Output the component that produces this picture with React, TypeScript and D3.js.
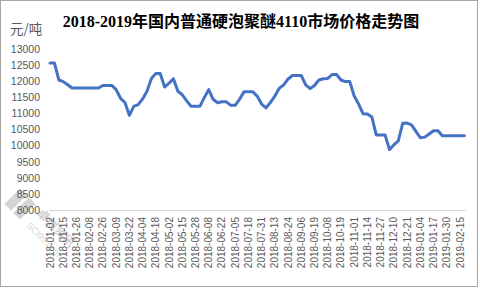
import React from "react";
import * as d3 from "d3";

const titleText = "2018-2019年国内普通硬泡聚醚4110市场价格走势图";
const unitLabel = "元/吨";

const tickLabels = [
  "2018-01-02", "2018-01-15", "2018-01-26", "2018-02-08", "2018-02-26", "2018-03-09",
  "2018-03-22", "2018-04-04", "2018-04-18", "2018-05-02", "2018-05-15", "2018-05-28",
  "2018-06-08", "2018-06-22", "2018-07-05", "2018-07-18", "2018-07-31", "2018-08-13",
  "2018-08-24", "2018-09-06", "2018-09-19", "2018-10-08", "2018-10-19", "2018-11-01",
  "2018-11-14", "2018-11-27", "2018-12-10", "2018-12-21", "2019-01-04", "2019-01-17",
  "2019-01-30", "2019-02-15",
];

// price sampled every 3 trading days (3 samples per labelled interval)
const priceValues = [
  12580, 12580, 12050, 12000, 11900, 11800, 11800, 11800, 11800, 11800,
  11800, 11800, 11880, 11880, 11880, 11750, 11480, 11350, 10950, 11230,
  11280, 11460, 11700, 12100, 12250, 12250, 11830, 11950, 12090, 11700,
  11590, 11400, 11230, 11230, 11230, 11500, 11750, 11450, 11340, 11370,
  11370, 11260, 11260, 11450, 11680, 11680, 11680, 11550, 11300, 11180,
  11350, 11550, 11790, 11900, 12080, 12190, 12190, 12190, 11900, 11780,
  11880, 12050, 12090, 12100, 12220, 12220, 12050, 12000, 12000, 11550,
  11300, 11000, 10990, 10900, 10340, 10340, 10340, 9880, 10030, 10150,
  10700, 10710, 10650, 10450, 10250, 10270, 10370, 10470, 10470, 10310,
  10310, 10310, 10310, 10310, 10310,
];

const samplesPerLabel = 3;
const yTicks = [8000, 8500, 9000, 9500, 10000, 10500, 11000, 11500, 12000, 12500, 13000];

export default function App() {
  const W = 480, H = 288;
  const x0 = 50, xLastLabel = 460;
  const step = (xLastLabel - x0) / ((tickLabels.length - 1) * samplesPerLabel);
  const x = d3.scaleLinear()
    .domain([0, priceValues.length - 1])
    .range([x0, x0 + step * (priceValues.length - 1)]);
  const y = d3.scaleLinear().domain([8000, 13000]).range([210, 49.5]);

  const line = d3.line<number>()
    .x((_, i) => x(i))
    .y((d) => y(d))
    .curve(d3.curveLinear);

  const labelColor = "#595959";

  return (
    <svg width={W} height={H} style={{ position: "absolute", left: 0, top: 0 }}>
      <rect x={0} y={0} width={W} height={H} fill="#ffffff" />
      <rect x={0.5} y={0.5} width={477} height={286} fill="none" stroke="#a6a6a6" strokeWidth={1} />

      {/* watermark */}
      <g opacity={0.7}>
        <rect x={-11} y={-11} width={22} height={22} fill="#c4c4c4" transform="translate(20,204) rotate(45)" />
        <line x1={8} y1={216} x2={32} y2={192} stroke="#ffffff" strokeWidth={3} />
        <text transform="translate(36,214) rotate(45)" fontSize={12} fill="#bdbdbd"
          fontFamily="'Noto Sans CJK SC', sans-serif" fontWeight="bold">卓创资讯</text>
        <text transform="translate(26,226) rotate(45)" fontSize={9} fill="#c4c4c4"
          fontFamily="'Liberation Sans', Arial, sans-serif">SCI99.com</text>
      </g>

      <text x={241} y={26.5} textAnchor="middle" fontSize={16} fontWeight="bold"
        fontFamily="'Liberation Serif', 'Noto Sans CJK SC', serif" fill="#000">{titleText}</text>

      <text x={10} y={34} fontSize={13.5} fill={labelColor}
        fontFamily="'Noto Sans CJK SC', 'Liberation Sans', sans-serif">{unitLabel}</text>

      {yTicks.map((t) => (
        <text key={t} x={40} y={y(t)} dy="0.35em" textAnchor="end" fontSize={10.5}
          fill={labelColor} fontFamily="'Liberation Sans', Arial, sans-serif">{t}</text>
      ))}

      <line x1={49} x2={466} y1={210.5} y2={210.5} stroke="#d9d9d9" strokeWidth={1} />

      {tickLabels.map((lab, k) => {
        const xx = x(k * samplesPerLabel);
        return (
          <text key={lab} transform={`translate(${xx + 3.5},217) rotate(-90)`} textAnchor="end"
            fontSize={10} fill={labelColor} fontFamily="'Liberation Sans', Arial, sans-serif">{lab}</text>
        );
      })}

      <path d={line(priceValues) || ""} fill="none" stroke="#4472C4" strokeWidth={3}
        strokeLinejoin="round" strokeLinecap="round" />
    </svg>
  );
}
